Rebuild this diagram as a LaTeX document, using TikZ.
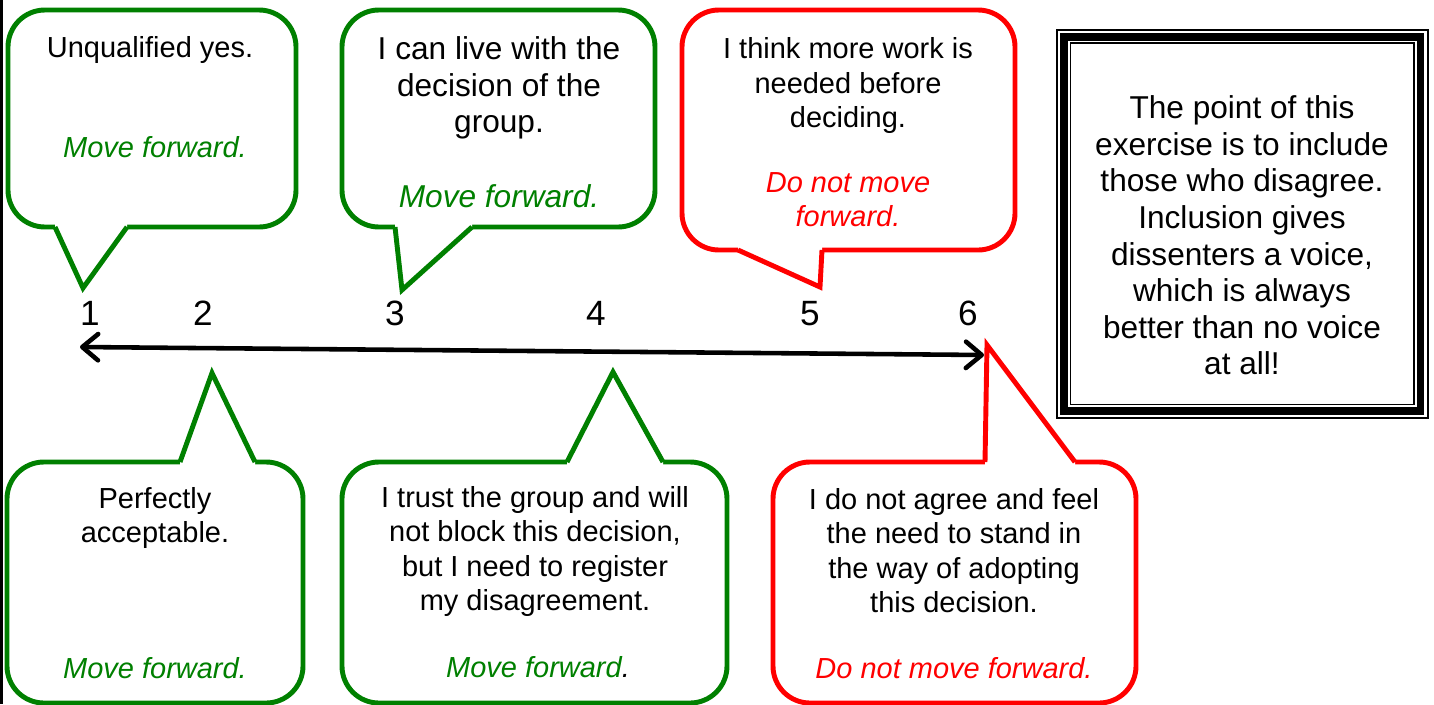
\documentclass[tikz,border=0pt]{standalone}
\usepackage{fontspec}
\setmainfont{Liberation Sans}
\usetikzlibrary{arrows.meta}

\definecolor{okgreen}{RGB}{0,128,0}
\definecolor{stopred}{RGB}{255,0,0}

\tikzset{
  bubble/.style={line width=2.8pt, rounded corners=21pt, fill=white},
  tail/.style={line width=2.8pt, line join=miter},
  say/.style={align=center, inner sep=0pt, font=\fontsize{16.5}{19.5}\selectfont},
  saybig/.style={align=center, inner sep=0pt, font=\fontsize{18}{20.8}\selectfont},
  go/.style={inner sep=0pt, text=okgreen, font=\fontsize{16.5}{19.5}\selectfont\itshape},
  stop/.style={align=center, inner sep=0pt, text=stopred, font=\fontsize{16.5}{19.5}\selectfont\itshape},
  num/.style={anchor=base, inner sep=0pt, font=\fontsize{20}{24}\selectfont},
  barb/.style={line width=2.6pt, {Straight Barb[length=9pt,width=15pt,round]}-{Straight Barb[length=9pt,width=15pt,round]}}
}

\begin{document}
\begin{tikzpicture}[x=0.02cm, y=-0.02cm]
	\useasboundingbox (0,0) rectangle (1434,704);
	\clip (0,0) rectangle (1434,704);
	\draw[line width=1.7pt] (1.5,0) -- (1.5,704);

	% top row
	\draw[bubble, draw=okgreen] (8,10) rectangle (296,227);
	\fill[white] (55,224) -- (55,227) -- (83,288) -- (127,227) -- (127,224) -- cycle;
	\draw[tail, okgreen] (55,227) -- (83,288) -- (127,227);
	\node[say, anchor=base] (q1) at (150,57) {Unqualified yes.};
	\node[go, anchor=base] (g1) at (155,157) {Move forward.};

	\draw[bubble, draw=okgreen] (342,10) rectangle (655,227);
	\fill[white] (395,224) -- (395,227) -- (402,290) -- (472,227) -- (472,224) -- cycle;
	\draw[tail, okgreen] (395,227) -- (402,290) -- (472,227);
	\node[saybig] (q3) at (499,88) {I can live with the\\decision of the\\group.};
	\node[go, anchor=base, font=\fontsize{18}{20.8}\selectfont\itshape] (g3) at (499,207) {Move forward.};

	\draw[bubble, draw=stopred] (682,10) rectangle (1015,250);
	\fill[white] (738,247) -- (738,250) -- (820,287) -- (822,250) -- (822,247) -- cycle;
	\draw[tail, stopred] (738,250) -- (820,287) -- (822,250);
	\node[say] (q5) at (848,85.5) {I think more work is\\needed before\\deciding.};
	\node[stop] (s5) at (848,200) {Do not move\\forward.};

	% scale
	\node[num] (n1) at (90,325) {1};
	\node[num] (n2) at (203,325) {2};
	\node[num] (n3) at (395,325) {3};
	\node[num] (n4) at (596,325) {4};
	\node[num] (n5) at (810,325) {5};
	\node[num] (n6) at (968,325) {6};
	\coordinate (lend) at (80,347);
	\coordinate (rend) at (984,355);
	\draw[barb] (lend) -- (rend);

	% bottom row
	\draw[bubble, draw=okgreen] (7,462) rectangle (303,703);
	\fill[white] (180,465) -- (180,462) -- (212,373) -- (255,462) -- (255,465) -- cycle;
	\draw[tail, okgreen] (180,462) -- (212,373) -- (255,462);
	\node[say] (q2) at (155,518) {Perfectly\\acceptable.};
	\node[go, anchor=base] (g2) at (155,678) {Move forward.};

	\draw[bubble, draw=okgreen] (342,462) rectangle (727,703);
	\fill[white] (567,465) -- (567,462) -- (613,372) -- (663,462) -- (663,465) -- cycle;
	\draw[tail, okgreen] (567,462) -- (613,372) -- (663,462);
	\node[say] (q4) at (535,551.5) {I trust the group and will\\not block this decision,\\but I need to register\\my disagreement.};
	\node[go, anchor=base] (g4) at (538,677) {Move forward\textcolor{black}{.}};

	\draw[bubble, draw=stopred] (773,462) rectangle (1136,703);
	\fill[white] (985,465) -- (985,462) -- (987,345) -- (1075,462) -- (1075,465) -- cycle;
	\draw[tail, stopred] (985,462) -- (987,345) -- (1075,462);
	\node[say] (q6) at (954,550.5) {I do not agree and feel\\the need to stand in\\the way of adopting\\this decision.};
	\node[stop, anchor=base] (s6) at (954,678) {Do not move forward.};

	% note
	\draw[line width=0.6pt] (1057,30) rectangle (1428,418);
	\draw[line width=4pt] (1064,37) rectangle (1420.5,411);
	\draw[line width=0.6pt] (1070.5,43) rectangle (1414,404.5);
	\node[saybig] (note) at (1242,235.5) {The point of this\\exercise is to include\\those who disagree.\\Inclusion gives\\dissenters a voice,\\which is always\\better than no voice\\at all!};
\end{tikzpicture}
\end{document}
